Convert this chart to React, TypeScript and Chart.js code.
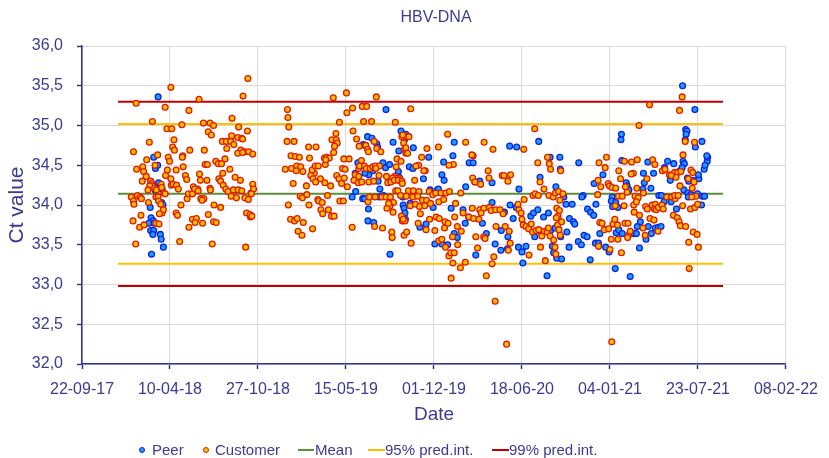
import { useEffect, useRef } from "react";
import { Chart, registerables } from "chart.js";

Chart.register(...registerables);

// ---- data ----
const baseDateUTC = Date.UTC(2017, 8, 22); // day 0 = 22-09-17
const xMinDay = 0;
const xMaxDay = 1600;
const xStepDays = 200;
const yMin = 32;
const yMax = 36;
const yStep = 0.5;

const chartTitle = "HBV-DNA";
const xTitle = "Date";
const yTitle = "Ct value";

const peerDay = [
  173, 163, 167, 172, 169, 179, 182, 181, 184, 155, 157, 162, 152, 164, 156, 163, 161, 178, 180, 185,
  158, 166, 170, 160, 174, 691, 725, 733, 707, 720, 649, 659, 670, 672, 639, 644, 627, 684, 690, 699,
  652, 643, 658, 661, 621, 673, 677, 685, 676, 622, 614, 638, 642, 651, 650, 663, 700, 719, 721, 730,
  732, 734, 735, 736, 753, 744, 752, 776, 788, 791, 808, 818, 822, 823, 843, 846, 872, 880, 889, 893,
  904, 932, 972, 988, 1038, 1064, 1086, 729, 746, 768, 782, 798, 802, 818, 831, 810, 839, 846, 853, 866,
  871, 879, 895, 910, 919, 932, 939, 952, 953, 960, 968, 967, 973, 980, 987, 993, 992, 1000, 1002, 1009,
  1020, 1026, 1029, 1036, 1041, 1044, 1049, 1057, 1060, 1065, 1069, 1072, 1077, 1079, 1087, 1088, 1075, 1129, 1095, 1100,
  1114, 1108, 1117, 1120, 1102, 1128, 1135, 1107, 1141, 1148, 1149, 1156, 1163, 1139, 1136, 1164, 1168, 1155, 1090, 1184,
  1177, 1167, 1174, 1190, 1198, 1205, 1203, 1213, 1218, 1206, 1212, 1226, 1225, 1227, 1214, 1220, 1228, 1237, 1239, 1243,
  1247, 1246, 1253, 1260, 1262, 1269, 1267, 1276, 1278, 1275, 1286, 1287, 1294, 1303, 1310, 1316, 1282, 1299, 1293, 1311,
  1317, 1323, 1339, 1331, 1324, 1345, 1337, 1351, 1359, 1365, 1393, 1372, 1375, 1373, 1371, 1394, 1409, 1366, 1369, 1364,
  1376, 1379, 1389, 1402, 1401, 1368, 1377, 1384, 1399, 1410, 1415, 1414, 1421, 1422, 1420, 1416, 1408, 1378,
];
const peerCt = [
  35.36, 34.6, 34.46, 34.5, 34.24, 34.21, 34.2, 34.03, 34.0, 33.97, 33.84, 33.8, 33.77, 33.77, 33.68, 33.68, 33.63, 33.63, 33.57, 33.47,
  33.38, 34.19, 34.1, 34.24, 34.28, 35.2, 34.93, 34.82, 34.79, 34.68, 34.86, 34.84, 34.77, 34.73, 34.76, 34.75, 34.53, 34.53, 34.47, 34.51,
  34.38, 34.4, 34.45, 34.43, 34.4, 34.3, 34.2, 34.12, 34.1, 34.17, 34.1, 34.08, 34.08, 33.95, 33.8, 33.78, 33.38, 34.42, 34.35, 34.0,
  33.96, 33.9, 33.82, 34.89, 34.72, 34.48, 34.46, 34.33, 34.6, 34.19, 34.19, 34.38, 34.54, 34.31, 34.62, 34.79, 34.23, 34.53, 34.53, 34.29,
  34.3, 34.28, 34.74, 34.73, 34.8, 34.6, 34.6, 34.1, 34.02, 33.72, 33.76, 33.97, 33.51, 33.51, 33.5, 34.2, 33.96, 33.64, 33.59, 33.94,
  33.77, 33.85, 33.37, 33.77, 33.64, 34.03, 33.51, 33.43, 33.68, 33.91, 33.6, 33.45, 34.0, 33.83, 33.97, 34.2, 33.47, 33.41, 33.27, 33.48,
  33.86, 33.9, 33.6, 33.94, 34.35, 33.66, 33.85, 33.11, 33.9, 33.68, 33.48, 33.4, 34.23, 33.33, 34.45, 33.6, 33.71, 34.53, 34.1, 34.01,
  34.01, 33.83, 33.79, 33.76, 33.66, 33.54, 33.5, 33.47, 33.62, 33.6, 33.95, 33.91, 33.87, 34.12, 34.1, 34.27, 34.01, 33.31, 33.32, 34.38,
  33.64, 33.52, 33.52, 33.47, 33.41, 34.1, 34.05, 34.03, 33.97, 33.98, 33.2, 34.89, 34.82, 34.56, 33.65, 33.69, 33.64, 34.28, 34.24, 34.19,
  33.66, 33.1, 33.64, 33.64, 33.73, 33.79, 33.46, 34.4, 34.28, 34.2, 34.54, 33.73, 33.64, 33.71, 33.72, 33.73, 33.57, 34.4, 34.21, 34.12,
  34.12, 34.04, 34.04, 34.55, 34.47, 34.52, 34.31, 33.95, 34.43, 35.5, 35.2, 34.95, 34.93, 34.89, 34.82, 34.73, 34.8, 34.55, 34.52, 34.47,
  34.34, 34.3, 34.31, 34.33, 34.38, 34.19, 34.15, 34.13, 34.14, 34.11, 34.11, 34.45, 34.55, 34.6, 34.62, 34.5, 34.0, 34.1,
];

const customerDay = [
  123, 202, 189, 266, 243, 160, 193, 204, 227, 153, 117, 209, 206, 210, 124, 138, 140, 146, 147, 137,
  166, 172, 196, 199, 194, 190, 202, 214, 229, 228, 230, 245, 278, 235, 238, 267, 269, 284, 253, 263,
  291, 280, 285, 156, 159, 160, 154, 165, 150, 169, 180, 181, 186, 189, 203, 207, 215, 219, 112, 117,
  118, 126, 132, 135, 151, 168, 173, 174, 179, 182, 185, 176, 134, 116, 131, 141, 168, 175, 214, 217,
  225, 239, 242, 251, 256, 264, 270, 277, 273, 287, 251, 260, 257, 274, 243, 300, 315, 299, 305, 122,
  222, 296, 372, 377, 366, 341, 276, 291, 299, 287, 294, 319, 328, 338, 329, 340, 354, 363, 365, 356,
  376, 345, 361, 370, 379, 388, 354, 365, 304, 325, 310, 317, 336, 320, 311, 315, 321, 327, 332, 348,
  360, 344, 355, 363, 384, 339, 351, 370, 378, 374, 383, 292, 388, 390, 385, 382, 386,
  467, 468, 470, 466, 482, 475, 485, 494, 462, 476, 488, 497, 487, 502, 480, 496, 501, 511, 516, 469,
  474, 483, 489, 503, 491, 500, 524, 515, 532, 517, 528, 523, 520, 530, 537, 525, 510, 536, 538, 546,
  543, 547, 560, 567, 573, 531, 542, 552, 565, 558, 551, 556, 562, 553, 554, 572, 568, 578, 577, 580,
  574, 571, 601, 615, 602, 585, 579, 584, 596, 590, 603, 592, 598, 607, 595, 586, 594, 614, 616, 624,
  630, 635, 645, 649, 637, 647, 640, 658, 669, 664, 670, 679, 651, 629, 631, 642, 646, 655, 661, 667,
  676, 668, 621, 629, 618, 628, 636, 652, 663, 675, 650, 653, 666, 682, 691, 701, 665, 683, 692, 711,
  717, 706, 722, 695, 702, 710, 719, 727, 713, 718, 724, 708, 700, 693, 697, 707, 726, 728, 734, 732,
  704, 705, 712, 733, 736, 727, 737, 716, 725, 714,
  747, 729, 743, 731, 736, 740, 784, 772, 756, 780, 777, 765, 759, 810, 831, 844, 834, 872, 914, 889,
  886, 934, 923, 925, 955, 959, 974, 968, 888, 893, 906, 1004, 1029, 1036, 1058, 1062, 1065, 1088, 1041, 1050,
  728, 742, 753, 766, 737, 752, 763, 774, 746, 758, 767, 783, 789, 797, 804, 811, 816, 827, 835, 861,
  866, 887, 904, 913, 926, 930, 940, 950, 957, 779, 792, 822, 849, 730, 738, 748, 764, 769, 782, 790,
  802, 805, 812, 824, 825, 832, 811, 818, 826, 834, 838, 846, 854, 842, 847, 853, 862, 843, 860, 871,
  839, 879, 890, 902, 907, 895, 913, 899, 916, 936, 932, 919, 941, 962, 971, 973, 969, 939, 965, 993,
  998, 1000, 1003, 1009, 1015, 1021, 1024, 1032, 1038, 1045, 1051, 1057, 1060, 1064, 1072, 1075, 1077, 1081, 1084, 1087,
  1016, 1042, 1053, 1025, 1030, 1037, 1061, 1071, 1076, 1083, 1086, 1079, 1082, 1078, 1005, 991,
  1093, 1085, 1090, 1175, 1192, 1189, 1173, 1179, 1172, 1196, 1199, 1205, 1213, 1204, 1177, 1182, 1187, 1197, 1174, 1200,
  1203, 1207, 1217, 1211, 1218, 1226, 1212, 1220, 1224, 1219, 1228, 1233, 1249, 1262, 1235, 1239, 1232, 1234, 1241, 1242,
  1240, 1246, 1253, 1248, 1261, 1257, 1264, 1254, 1260, 1255, 1267, 1276, 1290, 1266, 1284, 1297, 1302, 1281, 1285, 1275,
  1280, 1291, 1296, 1303, 1301, 1305, 1310, 1318, 1300, 1309, 1319, 1325, 1335, 1347, 1354, 1361, 1350, 1339, 1321, 1329,
  1340, 1348, 1344, 1353, 1357, 1360, 1359, 1365, 1372, 1379, 1380, 1358, 1364, 1371, 1366, 1384, 1388, 1378, 1391, 1387,
  1395, 1383, 1393, 1399, 1389, 1398, 1401, 1392, 1347, 1355, 1386,
];
const customerCt = [
  35.28, 35.48, 35.23, 35.33, 35.19, 35.05, 34.96, 34.96, 35.01, 34.79, 34.67, 34.82, 34.73, 34.69, 34.45, 34.48, 34.42, 34.36, 34.57, 34.3,
  34.5, 34.63, 34.6, 34.55, 34.44, 34.37, 34.33, 34.44, 34.62, 34.6, 34.48, 34.69, 34.69, 34.37, 34.32, 34.39, 34.31, 34.31, 34.23, 34.2,
  34.21, 34.51, 34.51, 34.3, 34.27, 34.24, 34.24, 34.21, 34.19, 34.19, 34.26, 34.22, 34.15, 34.14, 34.25, 34.26, 34.25, 34.2, 34.1, 34.05,
  34.01, 34.12, 34.1, 34.08, 34.03, 34.1, 34.1, 34.05, 34.01, 33.9, 33.94, 33.89, 33.87, 33.8, 33.72, 33.75, 33.77, 33.76, 33.9, 33.87,
  34.0, 34.08, 34.14, 34.14, 34.2, 34.18, 34.08, 34.08, 34.06, 33.88, 33.82, 33.83, 33.78, 33.77, 33.72, 34.0, 33.97, 33.79, 33.78, 33.51,
  33.54, 33.51, 33.47, 35.59, 35.37, 35.09, 35.03, 35.03, 35.0, 34.92, 34.88, 34.8, 34.8, 34.8, 34.71, 34.87, 34.85, 34.84, 34.83, 34.98,
  34.93, 34.76, 34.69, 34.67, 34.67, 34.64, 34.65, 34.66, 34.55, 34.58, 34.52, 34.52, 34.45, 34.4, 34.33, 34.3, 34.25, 34.2, 34.17, 34.35,
  34.31, 34.19, 34.19, 34.18, 34.15, 34.11, 34.09, 34.09, 34.07, 33.9, 33.85, 34.19, 34.26, 34.2, 34.14, 33.88, 33.86,
  35.2, 35.1, 34.98, 34.8, 34.8, 34.62, 34.61, 34.6, 34.45, 34.46, 34.49, 34.48, 34.43, 34.42, 34.27, 34.11, 34.09, 34.13, 34.0, 34.0,
  33.82, 33.8, 33.83, 33.78, 33.67, 33.62, 33.7, 34.73, 34.73, 34.59, 34.4, 34.44, 34.37, 34.49, 34.49, 34.33, 34.24, 34.07, 34.05, 34.03,
  33.94, 33.89, 33.94, 33.86, 33.86, 34.29, 34.33, 34.28, 34.24, 34.12, 34.59, 34.6, 34.59, 34.51, 34.57, 34.66, 34.82, 34.82, 34.9, 34.78,
  34.74, 35.35, 35.41, 35.22, 35.16, 35.04, 34.37, 34.33, 34.34, 34.27, 34.23, 34.46, 34.45, 34.58, 34.58, 34.05, 34.05, 33.72, 34.93, 34.83,
  34.74, 34.56, 34.75, 34.7, 35.24, 35.24, 35.05, 35.05, 35.36, 34.8, 34.71, 34.67, 34.67, 34.46, 34.49, 34.49, 34.46, 34.46, 34.48, 34.49,
  34.49, 34.46, 34.38, 34.36, 34.31, 34.28, 34.29, 34.29, 34.3, 34.37, 34.04, 34.1, 34.1, 34.1, 34.1, 34.1, 33.73, 33.71, 34.36, 34.36,
  34.34, 34.34, 34.33, 34.28, 34.29, 34.31, 34.31, 34.3, 34.18, 34.18, 34.12, 34.03, 33.99, 33.96, 34.02, 33.91, 33.86, 33.8, 33.8, 33.62,
  33.66, 33.59, 35.04, 34.7, 34.65, 34.86, 34.86, 34.58, 34.55, 34.48,
  35.21, 34.88, 34.86, 34.78, 34.72, 34.65, 34.71, 34.6, 34.31, 34.43, 34.43, 34.5, 34.49, 34.73, 34.89, 34.51, 34.5, 34.79, 34.79, 34.62,
  34.63, 34.7, 34.43, 34.34, 34.37, 34.37, 34.38, 34.3, 34.34, 34.29, 34.26, 34.7, 34.96, 34.53, 34.6, 34.52, 34.45, 34.43, 34.29, 34.2,
  34.27, 34.18, 34.18, 34.17, 34.11, 34.1, 34.11, 34.06, 33.99, 34.01, 33.98, 34.06, 34.17, 34.13, 34.15, 34.04, 34.15, 34.15, 34.17, 34.15,
  33.9, 33.96, 33.94, 33.96, 33.97, 33.93, 33.94, 33.94, 33.89, 33.99, 34.02, 34.07, 34.02, 33.82, 33.66, 33.52, 33.77, 33.89, 33.69, 33.82,
  33.68, 33.85, 33.83, 33.71, 33.79, 33.77, 33.55, 33.57, 33.47, 33.36, 33.4, 33.4, 33.5, 33.6, 33.85, 33.73, 33.67, 33.27, 33.21, 33.28,
  33.08, 33.85, 33.83, 33.82, 33.9, 33.6, 33.6, 33.46, 33.58, 33.35, 33.26, 33.11, 33.73, 33.73, 33.67, 33.52, 33.43, 32.79, 32.25, 33.94,
  33.9, 33.82, 33.75, 33.73, 33.7, 33.76, 33.66, 33.68, 33.69, 33.61, 33.67, 33.66, 33.71, 33.61, 33.56, 33.47, 33.38, 33.75, 33.69, 33.62,
  33.37, 33.47, 33.3, 34.12, 34.14, 34.12, 34.12, 34.1, 34.15, 34.17, 34.06, 33.96, 33.86, 33.84, 34.07, 34.01,
  34.14, 33.93, 33.79, 34.53, 34.6, 34.47, 34.31, 34.23, 34.13, 34.27, 34.24, 34.22, 34.21, 32.28, 33.78, 33.77, 33.69, 33.7, 33.48, 33.44,
  33.57, 33.76, 33.75, 33.82, 33.57, 33.4, 33.99, 34.43, 34.33, 34.11, 34.11, 34.55, 34.54, 34.57, 34.23, 34.16, 33.99, 33.77, 33.77, 33.62,
  33.59, 33.67, 34.4, 34.39, 34.21, 34.11, 34.09, 34.0, 34.04, 33.91, 33.87, 34.15, 35.26, 35.0, 34.33, 34.57, 34.51, 33.98, 33.95, 33.71,
  33.62, 33.83, 34.0, 34.01, 33.95, 33.94, 33.97, 34.0, 33.81, 33.67, 34.43, 34.45, 34.38, 34.41, 34.41, 34.42, 34.35, 34.37, 33.95, 34.1,
  34.1, 34.08, 33.87, 33.84, 33.79, 33.74, 34.24, 33.99, 33.73, 33.53, 33.2, 35.19, 35.36, 34.8, 34.63, 34.44, 34.41, 34.33, 34.29, 34.21,
  34.11, 33.95, 33.97, 34.01, 33.66, 33.63, 33.47, 34.79, 34.12, 34.12, 34.1,
];

const limitStartDay = 82;
const limitEndDay = 1457;
const meanCt = 34.14;
const pred95 = [33.26, 35.02];
const pred99 = [32.98, 35.3];

const legendLabels = ["Peer", "Customer", "Mean", "95% pred.int.", "99% pred.int."];

// ---- styles ----
const TEXT = "#3b3b94";
const AXIS = "#34348e";
const GRID = "#d9d9d9";
const FONT = '"Liberation Sans", Arial, sans-serif';
const PEER_FILL = "#1e9bff";
const PEER_BORDER = "#0a22e0";
const CUST_FILL = "#ffbe00";
const CUST_BORDER = "#e01a00";
const MEAN_COLOR = "#5b8f3a";
const P95_COLOR = "#ffc000";
const P99_COLOR = "#c00000";

const pad2 = (n: number) => (n < 10 ? "0" + n : "" + n);
const formatDay = (d: number) => {
  const dt = new Date(baseDateUTC + d * 86400000);
  return pad2(dt.getUTCDate()) + "-" + pad2(dt.getUTCMonth() + 1) + "-" + pad2(dt.getUTCFullYear() % 100);
};

const hLine = (y: number) => [
  { x: limitStartDay, y },
  { x: limitEndDay, y },
];

export default function App() {
  const ref = useRef<HTMLCanvasElement | null>(null);

  useEffect(() => {
    if (!ref.current) return;
    const lineDs = (label: string, y: number, color: string) => ({
      type: "line" as const,
      label,
      data: hLine(y),
      borderColor: color,
      backgroundColor: color,
      borderWidth: 2,
      pointRadius: 0,
      fill: false,
      order: 3,
    });
    const chart = new Chart(ref.current, {
      type: "scatter",
      data: {
        datasets: [
          lineDs(legendLabels[2], meanCt, MEAN_COLOR),
          lineDs(legendLabels[3], pred95[0], P95_COLOR),
          lineDs(legendLabels[3], pred95[1], P95_COLOR),
          lineDs(legendLabels[4], pred99[0], P99_COLOR),
          lineDs(legendLabels[4], pred99[1], P99_COLOR),
          {
            type: "scatter",
            label: legendLabels[0],
            data: peerDay.map((d, i) => ({ x: d, y: peerCt[i] })),
            backgroundColor: PEER_FILL,
            borderColor: PEER_BORDER,
            borderWidth: 1.3,
            pointRadius: 2.9,
            order: 2,
          },
          {
            type: "scatter",
            label: legendLabels[1],
            data: customerDay.map((d, i) => ({ x: d, y: customerCt[i] })),
            backgroundColor: CUST_FILL,
            borderColor: CUST_BORDER,
            borderWidth: 1.3,
            pointRadius: 2.9,
            order: 1,
          },
        ] as any,
      },
      options: {
        animation: false,
        responsive: false,
        devicePixelRatio: 1,
        layout: { padding: { top: 46, right: 39, bottom: 32, left: 0 } },
        plugins: {
          legend: { display: false },
          tooltip: { enabled: false },
          title: { display: false },
        },
        scales: {
          x: {
            type: "linear",
            min: xMinDay,
            max: xMaxDay,
            afterFit: (s: any) => {
              s.height = 62;
            },
            ticks: {
              stepSize: xStepDays,
              autoSkip: false,
              maxRotation: 0,
              padding: 11,
              color: TEXT,
              font: { family: FONT, size: 16 },
              callback: (v: any) => formatDay(Number(v)),
            },
            grid: { color: GRID, lineWidth: 1, tickColor: AXIS, tickLength: 5, tickWidth: 1.5 },
            border: { color: AXIS, width: 1.5 },
            title: {
              display: true,
              text: xTitle,
              color: TEXT,
              font: { family: FONT, size: 19 },
              padding: { top: 0, bottom: 0 },
            },
          },
          y: {
            type: "linear",
            min: yMin,
            max: yMax,
            afterFit: (s: any) => {
              s.width = 82;
            },
            ticks: {
              stepSize: yStep,
              padding: 14,
              color: TEXT,
              font: { family: FONT, size: 16 },
              callback: (v: any) => Number(v).toFixed(1).replace(".", ","),
            },
            grid: { color: GRID, lineWidth: 1, tickColor: AXIS, tickLength: 5, tickWidth: 1.5 },
            border: { color: AXIS, width: 1.5 },
            title: {
              display: true,
              text: yTitle,
              color: TEXT,
              font: { family: FONT, size: 21 },
              padding: { top: 5, bottom: 0 },
            },
          },
        },
      } as any,
    });
    return () => chart.destroy();
  }, []);

  const legendText: React.CSSProperties = {
    position: "absolute",
    top: 441,
    height: 18,
    lineHeight: "18px",
    fontSize: 15,
    color: TEXT,
    whiteSpace: "nowrap",
  };
  const dot = (left: number, fill: string, border: string): React.CSSProperties => ({
    position: "absolute",
    left: left - 3,
    top: 447,
    width: 4,
    height: 4,
    borderRadius: "50%",
    background: fill,
    border: `1px solid ${border}`,
  });
  const bar = (left: number, width: number, color: string): React.CSSProperties => ({
    position: "absolute",
    left,
    top: 449,
    width,
    height: 2,
    background: color,
  });

  return (
    <div
      style={{
        position: "fixed",
        left: 0,
        top: 0,
        width: 829,
        height: 458,
        background: "#ffffff",
        fontFamily: FONT,
        overflow: "hidden",
      }}
    >
      <canvas ref={ref} width={829} height={458} style={{ position: "absolute", left: 0, top: 0 }} />
      <div
        style={{
          position: "absolute",
          left: 336,
          width: 200,
          top: 8,
          textAlign: "center",
          fontSize: 16,
          lineHeight: "18px",
          color: TEXT,
        }}
      >
        {chartTitle}
      </div>
      <div style={dot(142, PEER_FILL, PEER_BORDER)} />
      <div style={{ ...legendText, left: 152 }}>{legendLabels[0]}</div>
      <div style={dot(206, CUST_FILL, CUST_BORDER)} />
      <div style={{ ...legendText, left: 215 }}>{legendLabels[1]}</div>
      <div style={bar(298, 16, MEAN_COLOR)} />
      <div style={{ ...legendText, left: 315 }}>{legendLabels[2]}</div>
      <div style={bar(368, 17, P95_COLOR)} />
      <div style={{ ...legendText, left: 385 }}>{legendLabels[3]}</div>
      <div style={bar(492, 17, P99_COLOR)} />
      <div style={{ ...legendText, left: 509 }}>{legendLabels[4]}</div>
    </div>
  );
}
